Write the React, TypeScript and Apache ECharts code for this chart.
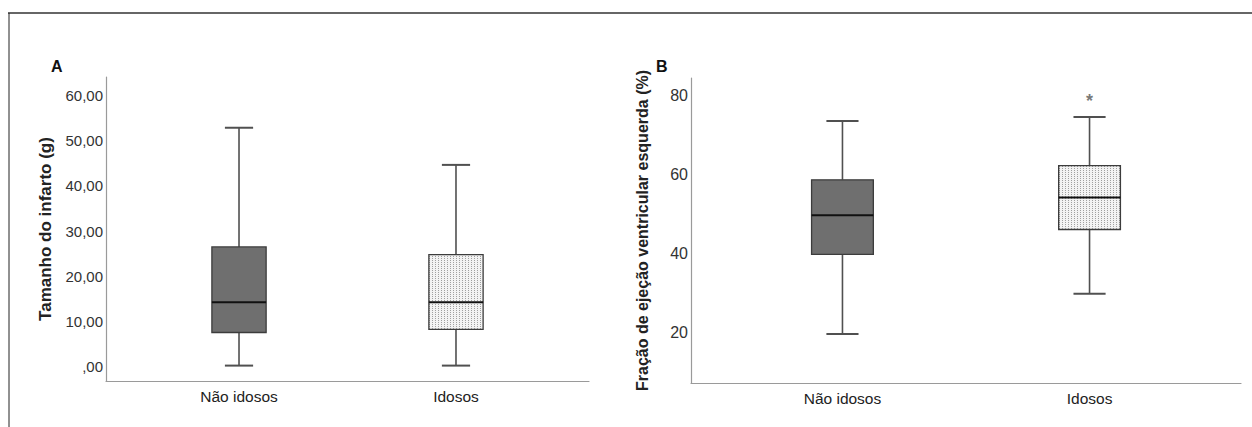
import React, { useEffect, useRef } from 'react';
import * as echarts from 'echarts';

const categories = ['Não idosos', 'Idosos'];
// [min, Q1, median, Q3, max]
const infartoStats = [
  [0.3, 7.6, 14.3, 26.5, 52.8],
  [0.3, 8.3, 14.3, 24.8, 44.6],
];
const fevStats = [
  [19.6, 39.8, 49.7, 58.7, 73.6],
  [29.8, 46.1, 54.2, 62.3, 74.6],
];
// [category index, value]
const fevOutliers = [[1, 80]];
const infartoTicks = [0, 10, 20, 30, 40, 50, 60];
const fevTicks = [20, 40, 60, 80];

const SANS = '"Liberation Sans", Arial, sans-serif';

export default function App() {
  const ref = useRef<HTMLDivElement>(null);
  useEffect(() => {
    if (!ref.current) return;
    const chart = echarts.init(ref.current, undefined, { renderer: 'svg' });

    const cv = document.createElement('canvas');
    cv.width = 3;
    cv.height = 2;
    const ctx = cv.getContext('2d');
    if (ctx) {
      ctx.fillStyle = '#f3f3f3';
      ctx.fillRect(0, 0, 3, 2);
      ctx.fillStyle = '#a0a0a0';
      ctx.fillRect(0, 0, 1, 1);
    }
    const patternFill: any = { image: cv.toDataURL(), repeat: 'repeat', imageWidth: 3, imageHeight: 2 };

    const BOX_W = 0.25;
    const renderBox = (params: any, api: any) => {
      const x = api.value(0);
      const pt = (d: number) => api.coord([x, api.value(d)]);
      const cx = pt(1)[0];
      const yMin = pt(1)[1];
      const yQ1 = pt(2)[1];
      const yMed = pt(3)[1];
      const yQ3 = pt(4)[1];
      const yMax = pt(5)[1];
      const bw = api.size([BOX_W, 0])[0];
      const cw = bw * 0.52;
      const fill = params.dataIndex === 0 ? '#6f6f6f' : patternFill;
      const wStyle = { stroke: '#505050', lineWidth: 1.6 };
      return {
        type: 'group',
        children: [
          { type: 'line', shape: { x1: cx, y1: yMax, x2: cx, y2: yQ3 }, style: wStyle },
          { type: 'line', shape: { x1: cx, y1: yQ1, x2: cx, y2: yMin }, style: wStyle },
          { type: 'line', shape: { x1: cx - cw / 2, y1: yMax, x2: cx + cw / 2, y2: yMax }, style: { stroke: '#505050', lineWidth: 2 } },
          { type: 'line', shape: { x1: cx - cw / 2, y1: yMin, x2: cx + cw / 2, y2: yMin }, style: { stroke: '#505050', lineWidth: 2 } },
          { type: 'rect', shape: { x: cx - bw / 2, y: yQ3, width: bw, height: yQ1 - yQ3 }, style: { fill, stroke: '#3c3c3c', lineWidth: 1.3 } },
          { type: 'line', shape: { x1: cx - bw / 2, y1: yMed, x2: cx + bw / 2, y2: yMed }, style: { stroke: '#111', lineWidth: 2 } },
        ],
      };
    };

    const xAxisCommon = (gridIndex: number) => ({
      type: 'value',
      gridIndex,
      min: -0.613,
      max: 1.613,
      splitLine: { show: false },
      axisTick: { show: false },
      axisLine: { show: true, onZero: false, lineStyle: { color: '#9a9a9a', width: 1.2 } },
      axisLabel: {
        customValues: [0, 1],
        formatter: (v: number) => categories[Math.round(v)] ?? '',
        fontFamily: SANS,
        fontSize: 15.5,
        color: '#222',
        margin: 7,
      },
    });

    const option: any = {
      animation: false,
      backgroundColor: '#fff',
      grid: [
        { left: 106, right: 663, top: 77, bottom: 46 },
        { left: 691, right: 11, top: 78, bottom: 44 },
      ],
      xAxis: [xAxisCommon(0), xAxisCommon(1)],
      yAxis: [
        {
          type: 'value',
          gridIndex: 0,
          min: -3.1,
          max: 64,
          splitLine: { show: false },
          axisTick: { show: false },
          axisLine: { show: true, onZero: false, lineStyle: { color: '#9a9a9a', width: 1.2 } },
          axisLabel: {
            customValues: infartoTicks,
            formatter: (v: number) => (v === 0 ? ',00' : v + ',00'),
            fontFamily: SANS,
            fontSize: 15,
            color: '#333',
            margin: 3,
          },
          name: 'Tamanho do infarto (g)',
          nameLocation: 'middle',
          nameRotate: 90,
          nameGap: 52,
          nameTextStyle: { fontFamily: SANS, fontWeight: 'bold', fontSize: 17, color: '#222' },
        },
        {
          type: 'value',
          gridIndex: 1,
          min: 7.2,
          max: 84.5,
          splitLine: { show: false },
          axisTick: { show: false },
          axisLine: { show: true, onZero: false, lineStyle: { color: '#9a9a9a', width: 1.2 } },
          axisLabel: {
            customValues: fevTicks,
            fontFamily: SANS,
            fontSize: 16,
            color: '#333',
            margin: 3,
          },
          name: 'Fração de ejeção ventricular esquerda (%)',
          nameLocation: 'middle',
          nameRotate: 90,
          nameGap: 41,
          nameTextStyle: { fontFamily: SANS, fontWeight: 'bold', fontSize: 16, color: '#222' },
        },
      ],
      graphic: [
        { type: 'line', shape: { x1: 8, y1: 13, x2: 1252, y2: 13 }, style: { stroke: '#666', lineWidth: 2 } },
        { type: 'line', shape: { x1: 9, y1: 13, x2: 9, y2: 427 }, style: { stroke: '#222', lineWidth: 1 } },
        { type: 'text', left: 51, top: 58, style: { text: 'A', font: 'bold 16px ' + SANS, fill: '#111' } },
        { type: 'text', left: 656, top: 58, style: { text: 'B', font: 'bold 16px ' + SANS, fill: '#111' } },
      ],
      series: [
        {
          type: 'custom',
          xAxisIndex: 0,
          yAxisIndex: 0,
          renderItem: renderBox,
          encode: { x: 0, y: [1, 2, 3, 4, 5] },
          data: categories.map((_, i) => [i, ...infartoStats[i]]),
        },
        {
          type: 'custom',
          xAxisIndex: 1,
          yAxisIndex: 1,
          renderItem: renderBox,
          encode: { x: 0, y: [1, 2, 3, 4, 5] },
          data: categories.map((_, i) => [i, ...fevStats[i]]),
        },
        {
          type: 'scatter',
          xAxisIndex: 1,
          yAxisIndex: 1,
          symbolSize: 0,
          data: fevOutliers,
          label: {
            show: true,
            position: 'inside',
            formatter: '*',
            fontFamily: SANS,
            fontWeight: 'bold',
            fontSize: 18,
            color: '#555',
            offset: [0, 5],
          },
        },
      ],
    };
    chart.setOption(option);
    return () => chart.dispose();
  }, []);
  return (
    <div
      ref={ref}
      style={{ position: 'absolute', left: 0, top: 0, width: 1252, height: 427 }}
    />
  );
}
